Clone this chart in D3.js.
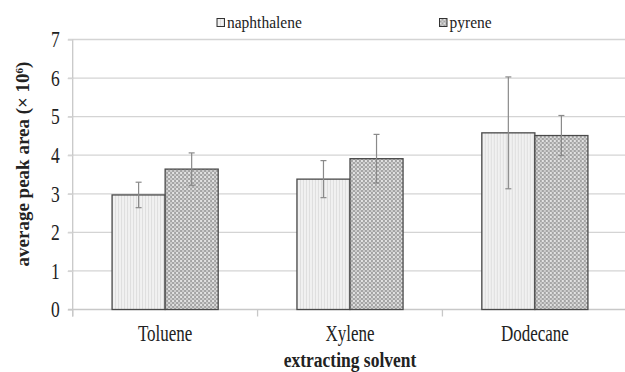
<!DOCTYPE html>
<html><head><meta charset="utf-8">
<script src="https://cdn.jsdelivr.net/npm/d3@7"></script>
<style>
html,body{margin:0;padding:0;background:#fff;}
svg{display:block;}
text{font-family:"Liberation Serif","Times New Roman",serif;fill:#222;}
</style></head>
<body>
<script>
const categories = ["Toluene", "Xylene", "Dodecane"];
const seriesNames = ["naphthalene", "pyrene"];
const naphthaleneMean = [2.97, 3.38, 4.58];
const naphthaleneErr = [0.33, 0.48, 1.45];
const pyreneMean = [3.64, 3.91, 4.51];
const pyreneErr = [0.42, 0.63, 0.52];
const yTicks = [0, 1, 2, 3, 4, 5, 6, 7];

const W = 625, H = 372;
const FONT = "'Liberation Serif','Times New Roman',serif";
const svg = d3.select("body").append("svg").attr("width", W).attr("height", H);
const defs = svg.append("defs");

// patterns
const p1 = defs.append("pattern").attr("id", "patN").attr("patternUnits", "userSpaceOnUse")
  .attr("width", 3).attr("height", 3);
p1.append("rect").attr("width", 3).attr("height", 3).attr("fill", "#f1f1f1");
p1.append("rect").attr("x", 0).attr("width", 1).attr("height", 3).attr("fill", "#dedede");

const p2 = defs.append("pattern").attr("id", "patP").attr("patternUnits", "userSpaceOnUse")
  .attr("width", 4).attr("height", 4);
p2.append("rect").attr("width", 4).attr("height", 4).attr("fill", "#a4a4a4");
p2.append("rect").attr("x", 0).attr("y", 0).attr("width", 2).attr("height", 2).attr("fill", "#e2e2e2");
p2.append("rect").attr("x", 2).attr("y", 2).attr("width", 2).attr("height", 2).attr("fill", "#cdcdcd");

const fills = ["url(#patN)", "url(#patP)"];

const pL = 72.7, pR = 627.3, pT = 39.5, pB = 309.5;
const x = d3.scaleBand().domain(categories).range([pL, pR]).paddingInner(0.426).paddingOuter(0.213);
const xs = d3.scaleBand().domain(seriesNames).range([0, x.bandwidth()]);
const y = d3.scaleLinear().domain([0, 7]).range([pB, pT]);

// gridlines
svg.append("g").selectAll("line").data(yTicks.filter(d => d > 0)).join("line")
  .attr("x1", 68).attr("x2", W).attr("y1", d => y(d)).attr("y2", d => y(d))
  .attr("stroke", "#d4d4d4").attr("stroke-width", 1.3);

// y axis
const yAxis = svg.append("g").attr("transform", `translate(${pL},0)`)
  .call(d3.axisLeft(y).tickValues(yTicks).tickSize(5).tickPadding(8).tickFormat(d3.format("d")));
yAxis.select(".domain").attr("stroke", "#c8c8c8").attr("stroke-width", 1.3)
  .attr("d", `M0,${pT}V${pB + 7}`);
yAxis.selectAll(".tick line").attr("stroke", "#d4d4d4").attr("stroke-width", 1.3);
yAxis.selectAll(".tick text").attr("font-size", 17.5)
  .attr("font-family", FONT).attr("fill", "#222")
  .attr("transform", "scale(1,1.3)");

// x axis baseline
svg.append("line").attr("x1", 68).attr("x2", W).attr("y1", pB).attr("y2", pB)
  .attr("stroke", "#c8c8c8").attr("stroke-width", 1.3);
// category boundary ticks
const bounds = categories.map((c, i) => pL + i * x.step()).concat([pL + categories.length * x.step()]);
svg.append("g").selectAll("line").data(bounds).join("line")
  .attr("x1", d => d).attr("x2", d => d).attr("y1", pB).attr("y2", pB + 7)
  .attr("stroke", "#c8c8c8").attr("stroke-width", 1.3);

// category labels
svg.append("g").selectAll("text").data(categories).join("text")
  .attr("transform", d => `translate(${x(d) + x.bandwidth() / 2},340.7) scale(1,1.3)`)
  .attr("text-anchor", "middle").attr("font-size", 17).attr("font-family", FONT).text(d => d);

// bars
const data = categories.map((c, i) => ({
  cat: c,
  vals: [
    { s: seriesNames[0], m: naphthaleneMean[i], e: naphthaleneErr[i], k: 0 },
    { s: seriesNames[1], m: pyreneMean[i], e: pyreneErr[i], k: 1 }
  ]
}));
const groups = svg.append("g").selectAll("g").data(data).join("g")
  .attr("transform", d => `translate(${x(d.cat)},0)`);
groups.selectAll("rect").data(d => d.vals).join("rect")
  .attr("x", d => xs(d.s)).attr("width", xs.bandwidth())
  .attr("y", d => y(d.m)).attr("height", d => y(0) - y(d.m))
  .attr("fill", d => fills[d.k]).attr("stroke", "#4a4a4a").attr("stroke-width", 1.3);

// error bars
const eb = groups.selectAll("g.eb").data(d => d.vals).join("g").attr("class", "eb")
  .attr("stroke", "#8a8a8a").attr("stroke-width", 1.2);
eb.append("line").attr("x1", d => xs(d.s) + xs.bandwidth() / 2).attr("x2", d => xs(d.s) + xs.bandwidth() / 2)
  .attr("y1", d => y(d.m + d.e)).attr("y2", d => y(d.m - d.e));
eb.append("line").attr("x1", d => xs(d.s) + xs.bandwidth() / 2 - 3).attr("x2", d => xs(d.s) + xs.bandwidth() / 2 + 3)
  .attr("y1", d => y(d.m + d.e)).attr("y2", d => y(d.m + d.e));
eb.append("line").attr("x1", d => xs(d.s) + xs.bandwidth() / 2 - 3).attr("x2", d => xs(d.s) + xs.bandwidth() / 2 + 3)
  .attr("y1", d => y(d.m - d.e)).attr("y2", d => y(d.m - d.e));

// legend
const legX = [217, 439.5];
const leg = svg.append("g").selectAll("g").data(seriesNames).join("g")
  .attr("transform", (d, i) => `translate(${legX[i]},18.5)`);
leg.append("rect").attr("width", 7.5).attr("height", 8)
  .attr("fill", (d, i) => fills[i]).attr("stroke", "#333").attr("stroke-width", 1);
leg.append("text").attr("x", 10).attr("y", 9).attr("font-size", 15.5).attr("font-family", FONT)
  .attr("transform", "scale(1,1.1)").text(d => d);

// axis titles
svg.append("text").attr("transform", `translate(${(pL + pR) / 2},366.5) scale(1,1.2)`)
  .attr("text-anchor", "middle").attr("font-size", 17.5).attr("font-weight", "bold")
  .attr("font-family", FONT).text("extracting solvent");

const yt = svg.append("text").attr("transform", "translate(29,164) rotate(-90)")
  .attr("text-anchor", "middle").attr("font-size", 19).attr("font-weight", "bold").attr("font-family", FONT);
yt.append("tspan").text("average peak area (× 10");
yt.append("tspan").attr("dy", -6).attr("font-size", 11).text("6");
yt.append("tspan").attr("dy", 6).text(")");
</script>
</body></html>
